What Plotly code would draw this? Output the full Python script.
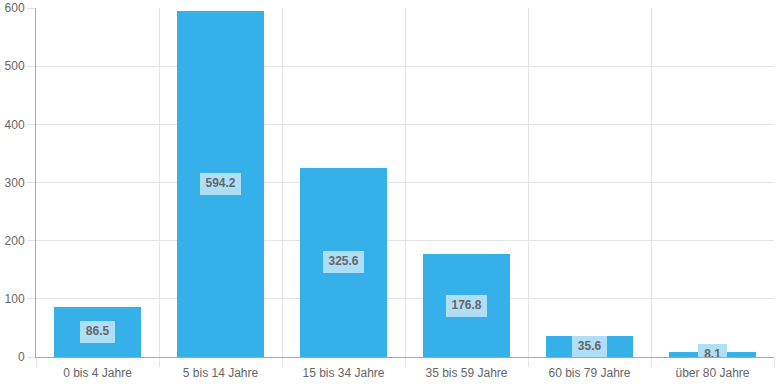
import plotly.graph_objects as go

categories = ["0 bis 4 Jahre", "5 bis 14 Jahre", "15 bis 34 Jahre", "35 bis 59 Jahre", "60 bis 79 Jahre", "über 80 Jahre"]
values = [86.5, 594.2, 325.6, 176.8, 35.6, 8.1]
y_ticks = [0, 100, 200, 300, 400, 500, 600]

FONT = "Liberation Sans, Arial, sans-serif"
W, H = 777, 388
ML, MR, MT, MB = 36, 3, 8, 31
Y_MAX = 600

xs = list(range(len(categories)))
bounds = [i - 0.5 for i in range(len(categories) + 1)]
labels = [str(v) for v in values]
mids = [v / 2 for v in values]

# label box sizes: pixels -> axis units
px_per_x = (W - ML - MR) / len(categories)
units_per_py = Y_MAX / (H - MT - MB)
box_h = 22 * units_per_py
box_w = [(len(t) * 6.7 + 8) / px_per_x for t in labels]
box_base = [m - box_h / 2 for m in mids]

fig = go.Figure()
fig.add_trace(go.Bar(
    x=xs, y=values, width=0.715,
    marker=dict(color="#36b0e9", line=dict(width=0)),
    hoverinfo="skip",
))
fig.add_trace(go.Bar(
    x=xs, y=[box_h] * len(xs), base=box_base, width=box_w,
    marker=dict(color="#afdff7", line=dict(width=0)),
    hoverinfo="skip",
))
fig.add_trace(go.Scatter(
    x=xs, y=mids, text=labels, mode="text", textposition="middle center",
    textfont=dict(family=FONT, size=12, color="#666666", weight="bold"),
    cliponaxis=True, hoverinfo="skip",
))

fig.update_layout(
    width=W, height=H,
    margin=dict(l=ML, r=MR, t=MT, b=MB),
    paper_bgcolor="white", plot_bgcolor="white",
    showlegend=False, barmode="overlay",
    font=dict(family=FONT, size=12, color="#666666"),
    bargap=0,
)
fig.update_xaxes(
    range=[-0.5, len(categories) - 0.5], automargin=False,
    tickvals=xs, ticktext=categories,
    showgrid=False, ticks="", zeroline=False, ticklabelstandoff=5,
    showline=True, linecolor="#a8a8a8", linewidth=1,
    minor=dict(tickvals=bounds, showgrid=True, gridcolor="#e3e3e3", gridwidth=1,
               ticks="outside", ticklen=9, tickcolor="#e3e3e3"),
    tickfont=dict(size=12, color="#666666"),
)
fig.update_yaxes(
    range=[0, Y_MAX], tickvals=y_ticks, automargin=False,
    showgrid=True, gridcolor="#e3e3e3", gridwidth=1,
    ticks="outside", ticklen=8, tickcolor="#e3e3e3",
    zeroline=False, showline=True, linecolor="#a8a8a8", linewidth=1,
    tickfont=dict(size=12, color="#666666"),
)

fig.write_html("out.html", config={"displayModeBar": False},
               post_script="document.body.style.margin='0';")
